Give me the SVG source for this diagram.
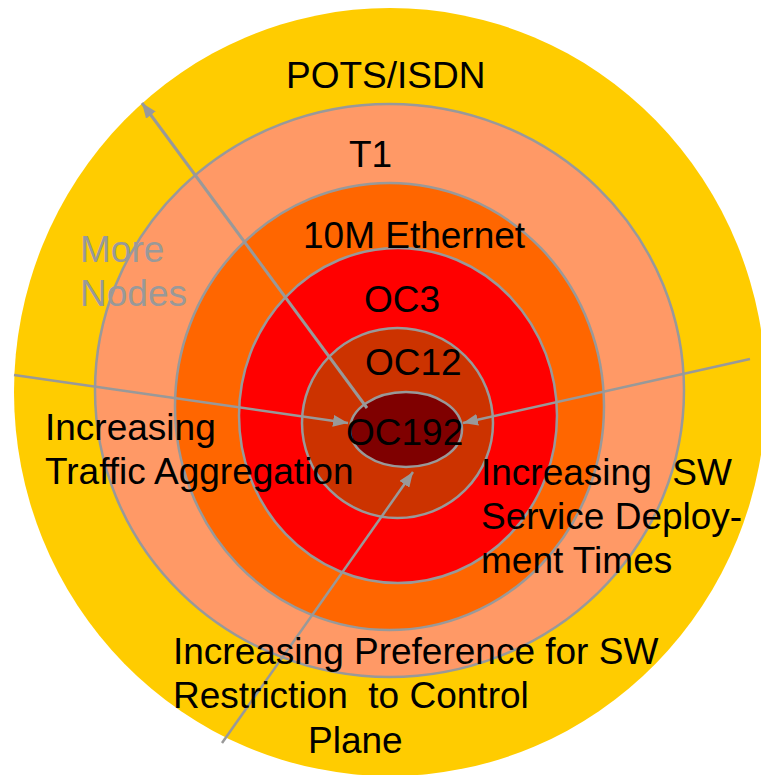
<svg xmlns="http://www.w3.org/2000/svg" width="761" height="775" viewBox="0 0 761 775">
<defs>
<style>
.ring{stroke:#999999;stroke-width:2.5}
.conn{stroke:#999999;fill:none}
.t{font-family:"Liberation Sans",Arial,sans-serif;font-size:37px;fill:#000000;white-space:pre}
.g{fill:#999999}
</style>
<marker id="ah" markerUnits="userSpaceOnUse" markerWidth="15" markerHeight="12" refX="15" refY="6" orient="auto">
<path d="M0,0 L15,6 L0,12 z" fill="#999999"/>
</marker>
</defs>
<rect width="761" height="775" fill="#ffffff"/>
<g id="pots"><ellipse cx="390" cy="392" rx="376" ry="384" fill="#FFCC00"/></g>
<g id="t1"><ellipse class="ring" cx="389.5" cy="390.5" rx="294.5" ry="286.5" fill="#FF9966"/></g>
<g id="eth"><ellipse class="ring" cx="389.5" cy="406.5" rx="214.5" ry="223.5" fill="#FF6600"/></g>
<g id="oc3"><ellipse class="ring" cx="398" cy="415.5" rx="159" ry="167.5" fill="#FF0000"/></g>
<g id="oc12"><ellipse class="ring" cx="397.5" cy="423" rx="95.5" ry="95" fill="#CC3300"/></g>
<g id="oc192"><ellipse class="ring" cx="406" cy="429.5" rx="56" ry="37.5" fill="#7F0000"/></g>
<g id="connectors">
<line class="conn" x1="367" y1="408" x2="142" y2="103" stroke-width="3" marker-end="url(#ah)"/>
<line class="conn" x1="14" y1="375" x2="348" y2="423" stroke-width="2.5" marker-end="url(#ah)"/>
<line class="conn" x1="750" y1="359" x2="463" y2="423" stroke-width="2.5" marker-end="url(#ah)"/>
<line class="conn" x1="222" y1="743" x2="413" y2="472" stroke-width="2.5" marker-end="url(#ah)"/>
</g>
<g id="labels">
<text class="t" x="286" y="88">POTS/ISDN</text>
<text class="t" x="349" y="167">T1</text>
<text class="t" x="303" y="248">10M Ethernet</text>
<text class="t" x="364" y="312">OC3</text>
<text class="t" x="365" y="375">OC12</text>
<text class="t" x="346" y="445">OC192</text>
<text class="t g" x="80" y="262">More</text>
<text class="t g" x="80" y="306">Nodes</text>
<text class="t" x="45" y="440">Increasing</text>
<text class="t" x="45" y="484">Traffic Aggregation</text>
<text class="t" x="481" y="485">Increasing  SW</text>
<text class="t" x="481" y="529">Service Deploy-</text>
<text class="t" x="481" y="573">ment Times</text>
<text class="t" x="173" y="664">Increasing Preference for SW</text>
<text class="t" x="173" y="708">Restriction  to Control</text>
<text class="t" x="308" y="753">Plane</text>
</g>
</svg>
